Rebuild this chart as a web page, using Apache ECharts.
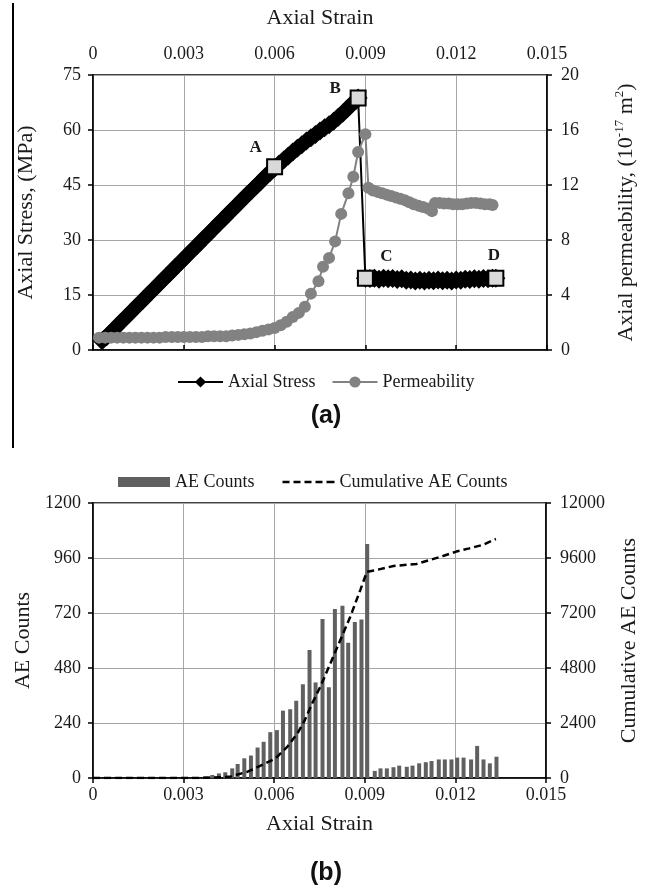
<!DOCTYPE html>
<html><head><meta charset="utf-8">
<script src="https://cdn.jsdelivr.net/npm/echarts@6/dist/echarts.min.js"></script>
<style>html,body{margin:0;padding:0;background:#fff}#c{width:656px;height:896px}</style>
</head><body><div id="c"></div>
<script>
// ---------- (a) Axial stress (MPa) vs axial strain ----------
const stressStrain = [0.0003,0.00045,0.0006,0.00075,0.0009,0.00105,0.0012,0.00135,0.0015,0.00165,0.0018,0.00195,0.0021,0.00225,0.0024,0.00255,0.0027,0.00285,0.003,0.00315,0.0033,0.00345,0.0036,0.00375,0.0039,0.00405,0.0042,0.00435,0.0045,0.00465,0.0048,0.00495,0.0051,0.00525,0.0054,0.00555,0.0057,0.00585,0.006,0.00615,0.0063,0.00645,0.0066,0.00675,0.0069,0.00705,0.0072,0.00735,0.0075,0.00765,0.0078,0.00795,0.0081,0.00825,0.0084,0.00855,0.0087,0.00876,
  0.009,0.00915,0.0093,0.00945,0.0096,0.00975,0.0099,0.01005,0.0102,0.01035,0.0105,0.01065,0.0108,0.01095,0.0111,0.01125,0.0114,0.01155,0.0117,0.01185,0.012,0.01215,0.0123,0.01245,0.0126,0.01275,0.0129,0.01305,0.0132,0.01331];
const stressMPa = [2.5,3.6,4.9,6.1,7.4,8.6,9.9,11.1,12.4,13.6,14.9,16.1,17.4,18.6,19.9,21.1,22.4,23.6,24.9,26.1,27.4,28.6,29.9,31.1,32.4,33.6,34.9,36.1,37.4,38.6,39.9,41.1,42.4,43.6,44.8,46.0,47.3,48.4,49.6,50.7,51.8,52.9,54.0,55.0,56.0,57.0,57.9,58.8,59.7,60.6,61.4,62.4,63.5,64.6,65.8,67.0,68.1,68.7,
  19.6,19.5,19.6,19.3,19.6,19.4,19.5,19.2,19.4,19.0,19.1,18.8,19.0,18.8,19.0,18.9,19.1,18.9,19.0,18.8,19.1,19.0,19.3,19.2,19.4,19.3,19.5,19.4,19.6,19.6];
// Permeability (10^-17 m^2)
const permStrain = [0.0002,0.0004,0.0006,0.0008,0.001,0.0012,0.0014,0.0016,0.0018,0.002,0.0022,0.0024,0.0026,0.0028,0.003,0.0032,0.0034,0.0036,0.0038,0.004,0.0042,0.0044,0.0046,0.0048,0.005,0.0052,0.0054,0.0056,0.0058,0.006,0.0062,0.0064,0.0066,0.0068,0.007,0.0072,0.00745,0.0076,0.0078,0.008,0.0082,0.00844,0.0086,0.00876,0.009,
  0.0091,0.00925,0.0094,0.00955,0.0097,0.00985,0.01,0.01015,0.0103,0.01045,0.0106,0.01075,0.0109,0.01105,0.0112,0.0113,0.01145,0.0116,0.01175,0.0119,0.01205,0.0122,0.01235,0.0125,0.01265,0.0128,0.01295,0.0131,0.0132];
const permValue = [0.9,0.9,0.9,0.9,0.9,0.9,0.9,0.9,0.9,0.9,0.9,0.95,0.95,0.95,0.95,0.95,0.95,0.95,1.0,1.0,1.0,1.0,1.05,1.1,1.15,1.2,1.3,1.4,1.5,1.6,1.8,2.05,2.4,2.7,3.15,4.1,5.0,6.05,6.7,7.9,9.9,11.4,12.6,14.4,15.7,
  11.8,11.6,11.5,11.4,11.3,11.2,11.1,11.0,10.9,10.75,10.6,10.5,10.4,10.3,10.1,10.7,10.7,10.65,10.65,10.6,10.6,10.6,10.65,10.7,10.7,10.65,10.6,10.6,10.55];
// Marked points A-D on the stress curve
const markerLabels = ['A','B','C','D'];
const markerStrain = [0.006,0.00876,0.009,0.01331];
const markerMPa = [50,68.7,19.6,19.6];

// ---------- (b) AE counts ----------
const aeStrain = [0.00373,0.00395,0.00417,0.00438,0.00461,0.00479,0.00501,0.00523,0.00545,0.00565,0.00587,0.00609,0.00629,0.00653,0.00673,0.00695,0.00717,0.00737,0.0076,0.00781,0.00801,0.00826,0.00845,0.00867,0.00889,0.00908,
  0.00933,0.00952,0.00973,0.00995,0.01014,0.01039,0.01058,0.0108,0.01102,0.01121,0.01145,0.01165,0.01187,0.01206,0.01227,0.01252,0.01272,0.01293,0.01314,0.01336];
const aeCounts = [6,13,20,25,42,61,86,98,133,158,200,209,294,300,337,409,559,417,694,396,738,752,590,681,692,1021,
  31,42,42,47,54,49,54,64,69,74,81,81,81,89,89,81,140,81,64,93];
const cumStrain = [0,0.0035,0.0043,0.00457,0.00512,0.00567,0.00605,0.00644,0.00677,0.00699,0.00726,0.00753,0.00786,0.00819,0.00852,0.00885,0.00907,0.0094,0.00995,0.01071,0.01115,0.01159,0.01203,0.01246,0.0129,0.01334];
const cumCounts = [0,0,40,70,275,611,860,1370,1950,2460,3260,3990,5000,6020,7040,8200,9000,9080,9250,9340,9510,9690,9880,10020,10170,10430];

const SERIF = 'Liberation Serif';
const TXT = '#1a1a1a';
const zip = (a, b) => a.map((v, i) => [v, b[i]]);
const strainFmt = v => v === 0 ? '0' : v.toFixed(3);
const plainFmt = v => String(v);

const baseAxis = {
  axisLine: {show: true, lineStyle: {color: '#000', width: 1.5}},
  axisTick: {show: true, length: 5, lineStyle: {color: '#000', width: 1.5}},
  splitLine: {show: true, lineStyle: {color: '#a6a6a6', width: 1}},
  nameLocation: 'middle',
  nameTextStyle: {fontFamily: SERIF, fontSize: 22, color: TXT},
};
const lbl = (m, f) => ({fontFamily: SERIF, fontSize: 18, color: TXT, margin: m, formatter: f || plainFmt});

// dashed-line legend icon (series has no symbol)
const dashIcon = 'path://M0,0h7v2.6h-7z M11,0h7v2.6h-7z M22,0h7v2.6h-7z M33,0h7v2.6h-7z M44,0h8v2.6h-8z';

const chart = echarts.init(document.getElementById('c'), null, {renderer: 'canvas'});
chart.setOption({
  animation: false,
  backgroundColor: '#fff',
  grid: [
    {left: 93, right: 109, top: 75, height: 275, show: true, borderColor: '#000', borderWidth: 1.5},
    {left: 93, right: 110, top: 503, height: 275, show: true, borderColor: '#000', borderWidth: 1.5}
  ],
  xAxis: [
    Object.assign({}, baseAxis, {gridIndex: 0, type: 'value', position: 'top', min: 0, max: 0.015, interval: 0.003,
      name: 'Axial Strain', nameGap: 46, axisLabel: lbl(12, strainFmt)}),
    Object.assign({}, baseAxis, {gridIndex: 1, type: 'value', position: 'bottom', min: 0, max: 0.015, interval: 0.003,
      name: 'Axial Strain', nameGap: 35, axisLabel: lbl(8, strainFmt)})
  ],
  yAxis: [
    Object.assign({}, baseAxis, {gridIndex: 0, type: 'value', position: 'left', min: 0, max: 75, interval: 15,
      name: 'Axial Stress, (MPa)', nameRotate: 90, nameGap: 56, axisLabel: lbl(12)}),
    Object.assign({}, baseAxis, {gridIndex: 0, type: 'value', position: 'right', min: 0, max: 20, interval: 4,
      splitLine: {show: false}, nameRotate: 90, nameGap: 66,
      name: '{n|Axial permeability, (10}{s|-17}{n| m}{s|2}{n|)}',
      nameTextStyle: {rich: {
        n: {fontFamily: SERIF, fontSize: 22, color: TXT, lineHeight: 26},
        s: {fontFamily: SERIF, fontSize: 13, color: TXT, lineHeight: 12, verticalAlign: 'top'}
      }},
      axisLabel: lbl(14)}),
    Object.assign({}, baseAxis, {gridIndex: 1, type: 'value', position: 'left', min: 0, max: 1200, interval: 240,
      name: 'AE Counts', nameRotate: 90, nameGap: 54, axisLabel: lbl(12)}),
    Object.assign({}, baseAxis, {gridIndex: 1, type: 'value', position: 'right', min: 0, max: 12000, interval: 2400,
      splitLine: {show: false}, name: 'Cumulative AE Counts', nameRotate: 90, nameGap: 72, axisLabel: lbl(14)})
  ],
  legend: [
    {left: 172, top: 368, itemWidth: 45, itemHeight: 14, itemGap: 16,
      textStyle: {fontFamily: SERIF, fontSize: 18, color: TXT},
      data: ['Axial Stress', 'Permeability']},
    {left: 113, top: 468, itemWidth: 52, itemHeight: 10, itemGap: 28,
      textStyle: {fontFamily: SERIF, fontSize: 18, color: TXT},
      data: [{name: 'AE Counts', icon: 'rect'}, {name: 'Cumulative AE Counts', icon: dashIcon}]}
  ],
  series: [
    {name: 'Axial Stress', type: 'line', xAxisIndex: 0, yAxisIndex: 0,
      data: zip(stressStrain, stressMPa), symbol: 'diamond', symbolSize: 19, showAllSymbol: true,
      itemStyle: {color: '#000'}, lineStyle: {color: '#000', width: 2}, z: 2},
    {name: 'Permeability', type: 'line', xAxisIndex: 0, yAxisIndex: 1,
      data: zip(permStrain, permValue), symbol: 'circle', symbolSize: 12, showAllSymbol: true,
      itemStyle: {color: '#828282'}, lineStyle: {color: '#828282', width: 2}, z: 3},
    {name: 'Points', type: 'scatter', xAxisIndex: 0, yAxisIndex: 0,
      data: markerStrain.map((x, i) => ({value: [x, markerMPa[i]], name: markerLabels[i],
        label: {offset: [[-19, -19], [-23, -9], [21, -22], [-2, -23]][i]}})),
      symbol: 'rect', symbolSize: 15,
      itemStyle: {color: '#d9d9d9', borderColor: '#000', borderWidth: 2, opacity: 1},
      label: {show: true, position: 'inside', formatter: p => p.name,
        fontFamily: SERIF, fontWeight: 'bold', fontSize: 17, color: TXT},
      z: 5},
    {name: 'AE Counts', type: 'bar', xAxisIndex: 1, yAxisIndex: 2,
      data: zip(aeStrain, aeCounts), barWidth: 4, itemStyle: {color: '#606060'}, z: 2},
    {name: 'Cumulative AE Counts', type: 'line', xAxisIndex: 1, yAxisIndex: 3,
      data: zip(cumStrain, cumCounts), symbol: 'none',
      itemStyle: {color: '#000'}, lineStyle: {color: '#000', width: 2.5, type: [7, 4]}, z: 3}
  ],
  graphic: [
    {type: 'line', shape: {x1: 13, y1: 3, x2: 13, y2: 448}, style: {stroke: '#000', lineWidth: 2}},
    {type: 'text', x: 326, y: 416, style: {text: '(a)', font: 'bold 25px "Liberation Sans"', fill: '#111', textAlign: 'center', textVerticalAlign: 'middle'}},
    {type: 'text', x: 326, y: 873, style: {text: '(b)', font: 'bold 25px "Liberation Sans"', fill: '#111', textAlign: 'center', textVerticalAlign: 'middle'}}
  ]
});
</script>
</body></html>
